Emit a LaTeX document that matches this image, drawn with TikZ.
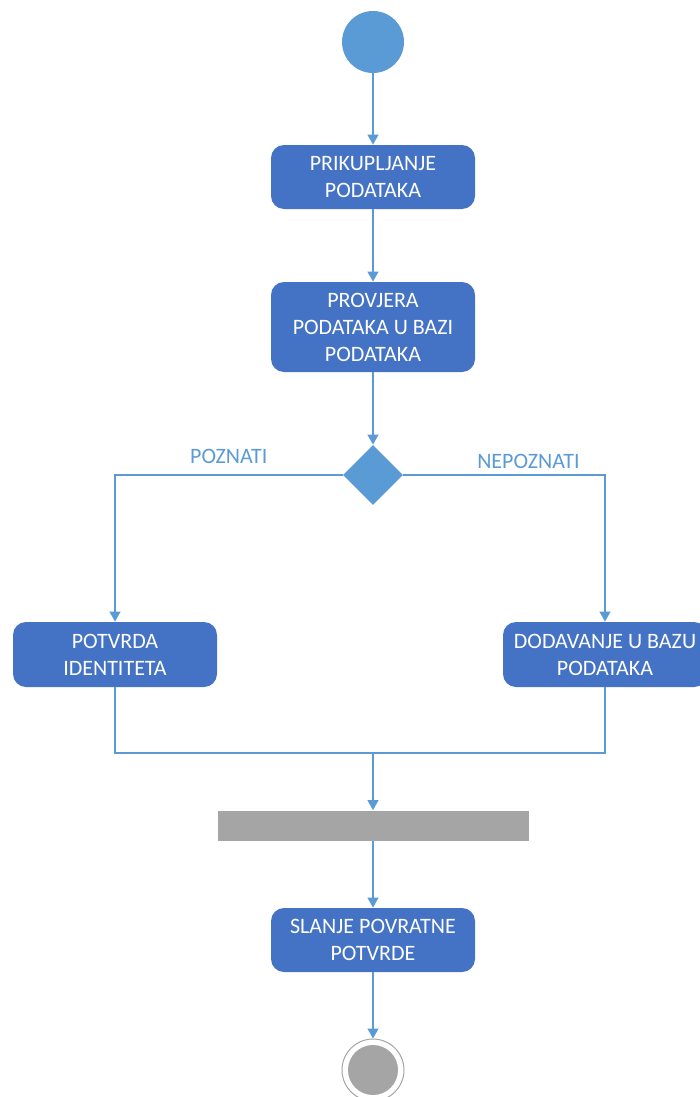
\documentclass[tikz,border=0pt]{standalone}
\usepackage{fontspec}
\setmainfont{Carlito}
\usetikzlibrary{arrows.meta,positioning,shapes.geometric}
\definecolor{actblue}{HTML}{4472C4}
\definecolor{lineblue}{HTML}{5B9BD5}
\definecolor{bargray}{HTML}{A5A5A5}

\begin{document}
\begin{tikzpicture}[x=0.5pt,y=-0.5pt,on grid,
    font=\fontsize{11}{13.5}\selectfont,
    flow/.style={draw=lineblue,line width=0.6pt},
    arr/.style={flow,-{Triangle[width=5.5pt,length=5pt]}},
    action/.style={rectangle,rounded corners=6.5pt,fill=actblue,text=white,
      align=center,minimum width=102pt,minimum height=32pt,inner sep=0pt},
    initnode/.style={circle,fill=lineblue,minimum size=31pt,inner sep=0pt},
    finalnode/.style={circle,draw=bargray,line width=0.5pt,fill=white,
      minimum size=31pt,inner sep=0pt,
      path picture={\fill[bargray] (path picture bounding box.center) circle (12.5pt);}},
    decision/.style={diamond,fill=lineblue,minimum size=30pt,inner sep=0pt},
    syncbar/.style={rectangle,fill=bargray,minimum width=155.5pt,minimum height=15pt,inner sep=0pt},
    guard/.style={text=lineblue}]
    \useasboundingbox (0,0) rectangle (700,1097);
    \node[initnode] (init) at (373,42) {};
    \node[action] (collect) [below=67.5pt of init] {PRIKUPLJANJE\\PODATAKA};
    \node[action,minimum height=45pt] (check) [below=75pt of collect] {PROVJERA\\PODATAKA U BAZI\\PODATAKA};
    \node[decision] (dec) [below=74pt of check] {};
    \node[action,minimum height=32.5pt] (confirm) [below left=89.75pt and 129pt of dec] {POTVRDA\\IDENTITETA};
    \node[action,minimum height=32.5pt] (add) [below right=89.75pt and 116pt of dec] {DODAVANJE U BAZU\\PODATAKA};
    \node[syncbar] (join) [below=175.25pt of dec] {};
    \coordinate[above=36.25pt of join] (merge);
    \node[action] (reply) [below=57.25pt of join] {SLANJE POVRATNE\\POTVRDE};
    \node[finalnode] (final) [below=65pt of reply] {};
    \draw[arr] (init) -- (collect);
    \draw[arr] (collect) -- (check);
    \draw[arr] (check) -- (dec);
    \draw[arr] (dec) -| node[guard,above,pos=0.25,yshift=2pt] {POZNATI} (confirm);
    \draw[arr] (dec) -| node[guard,above,pos=0.31,yshift=-0.5pt] {NEPOZNATI} (add);
    \draw[flow] (confirm) |- (merge) -| (add);
    \draw[arr] (merge) -- (join);
    \draw[arr] (join) -- (reply);
    \draw[arr] (reply) -- (final);
\end{tikzpicture}
\end{document}
